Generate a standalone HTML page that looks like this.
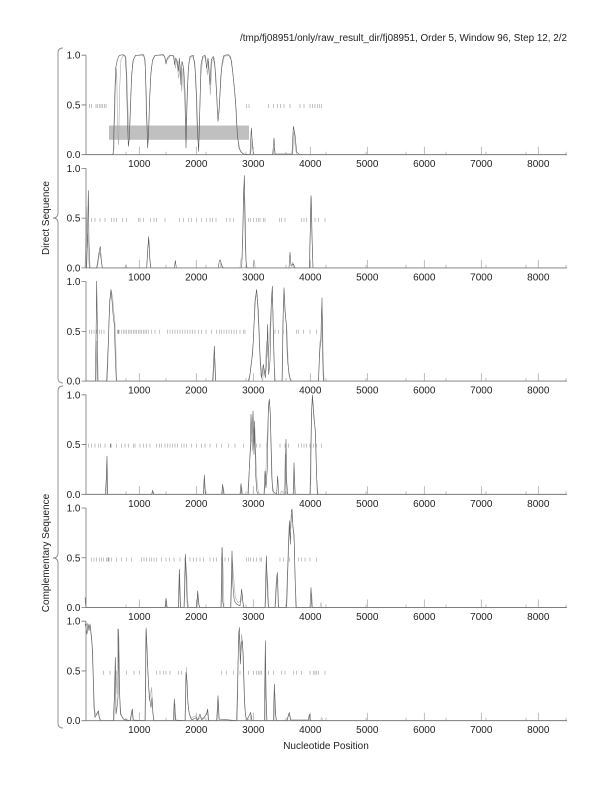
<!DOCTYPE html>
<html>
<head>
<meta charset="utf-8">
<style>
  html,body{margin:0;padding:0;background:#fff;}
  svg{display:block;}
  text{font-family:"Liberation Sans",Arial,sans-serif;font-size:10px;fill:#222;}
  .ax{fill:none;stroke:#777;stroke-width:0.8;}
  .tk{fill:none;stroke:#a0a0a0;stroke-width:0.7;}
  .dk{fill:none;stroke:#505050;stroke-width:0.55;vector-effect:non-scaling-stroke;stroke-linejoin:round;}
  .gr{fill:none;stroke:#ababab;stroke-width:0.6;vector-effect:non-scaling-stroke;stroke-linejoin:round;}
  .ds{fill:none;stroke:#a8a8a8;stroke-width:0.7;vector-effect:non-scaling-stroke;}
  .br{fill:none;stroke:#8a8a8a;stroke-width:0.9;}
</style>
</head>
<body>
<svg width="612" height="792" viewBox="0 0 612 792" xmlns="http://www.w3.org/2000/svg">
<rect width="612" height="792" fill="#fff"/>

<text x="567" y="41" text-anchor="end" textLength="327" lengthAdjust="spacingAndGlyphs">/tmp/fj08951/only/raw_result_dir/fj08951, Order 5, Window 96, Step 12, 2/2</text>

<!-- braces -->
<path class="br" d="M63,48 Q58,48 58,53 L58,213 Q58,218 53,218 Q58,218 58,223 L58,378 Q58,383 63,383"/>
<path class="br" d="M63,386 Q58,386 58,391 L58,553 Q58,558 53,558 Q58,558 58,563 L58,723 Q58,728 63,728"/>
<text transform="translate(49,218) rotate(-90)" text-anchor="middle">Direct Sequence</text>
<text transform="translate(49,553) rotate(-90)" text-anchor="middle">Complementary Sequence</text>

<text x="326" y="749" text-anchor="middle">Nucleotide Position</text>

<!-- ================= PANEL 1 ================= -->
<rect x="109" y="125.5" width="140" height="14.3" fill="#c0c0c0"/>
<g transform="translate(80,48.03) scale(0.333333)">
<path class="ds" d="M28,168v12M35,168v12M48,168v12M53,168v12M58,168v12M63,168v12M68,168v12M73,168v12M78,168v12M500,168v12M507,168v12M565,168v12M580,168v12M592,168v12M602,168v12M612,168v12M630,168v12M660,168v12M672,168v12M690,168v12M697,168v12M705,168v12M712,168v12M718,168v12M725,168v12"/>
<path class="gr" d="M15,320 L98,320 L102,300 L106,120 L110,60 L113,250 L116,290 L119,120 L123,35 L130,22 L138,28 L142,120 L146,260 L150,230 L154,110 L158,40 L166,22 L192,22 L196,60 L199,200 L202,280 L205,270 L208,180 L212,90 L217,40 L226,22 L252,22 L257,40 L262,35 L272,22 L282,25 L286,60 L290,35 L296,90 L301,50 L305,130 L309,60 L314,160 L318,250 L322,120 L327,40 L336,22 L344,40 L348,100 L352,200 L355,280 L358,240 L362,90 L368,30 L377,25 L382,80 L386,40 L391,140 L396,40 L403,30 L408,90 L412,190 L416,200 L420,140 L425,60 L433,25 L447,22 L455,40 L461,100 L466,150 L470,230 L475,280 L480,305 L487,315 L495,320 L512,320 L516,270 L520,320 L580,320 L583,300 L586,320 L638,320 L642,250 L646,300 L650,320 L1460,320"/>
<path class="dk" d="M15,320 L95,320 L100,318 L104,150 L107,60 L112,35 L118,22 L130,20 L136,25 L139,80 L142,200 L145,295 L148,270 L151,180 L155,80 L160,35 L167,22 L190,20 L195,35 L198,120 L201,230 L203,300 L206,250 L209,150 L213,70 L218,35 L225,22 L250,20 L255,28 L258,48 L262,30 L270,22 L280,22 L284,50 L287,30 L292,40 L295,70 L298,30 L303,110 L306,40 L311,60 L315,130 L318,300 L321,170 L325,60 L330,25 L340,22 L345,60 L349,140 L352,250 L356,310 L359,200 L363,50 L368,25 L375,22 L380,60 L384,30 L390,110 L394,35 L400,25 L405,60 L410,140 L414,220 L418,180 L422,90 L427,40 L432,22 L445,20 L452,28 L458,70 L463,120 L468,180 L472,260 L477,300 L483,312 L490,318 L510,320 L514,240 L518,300 L522,320 L578,320 L582,270 L585,318 L636,318 L640,235 L645,260 L650,312 L660,320 L1460,320"/>
</g>
<g transform="translate(0,154.7)">
<path class="tk" d="M139.3,0v-8M196.3,0v-8M253.3,0v-8M310.3,0v-8M367.3,0v-8M424.3,0v-8M481.3,0v-8M538.3,0v-8M126,0v-3M166,0v-3M206,0v-3M246,0v-3M286,0v-3M326,0v-3M366,0v-3M406,0v-3M446,0v-3M486,0v-3M526,0v-3M566,0v-3"/>
<path class="ax" d="M86,-99.5V0H567M81.5,-99.5H86M81.5,-49.75H86M81.5,0H86"/>
<text x="80.5" y="-96" text-anchor="end">1.0</text>
<text x="80.5" y="-46.2" text-anchor="end">0.5</text>
<text x="80.5" y="3.5" text-anchor="end">0.0</text>
<text x="139.3" y="12.5" text-anchor="middle">1000</text><text x="196.3" y="12.5" text-anchor="middle">2000</text><text x="253.3" y="12.5" text-anchor="middle">3000</text><text x="310.3" y="12.5" text-anchor="middle">4000</text><text x="367.3" y="12.5" text-anchor="middle">5000</text><text x="424.3" y="12.5" text-anchor="middle">6000</text><text x="481.3" y="12.5" text-anchor="middle">7000</text><text x="538.3" y="12.5" text-anchor="middle">8000</text>
</g>

<!-- ================= PANEL 2 ================= -->
<g transform="translate(80,160.57) scale(0.333333)">
<path class="ds" d="M35,172v12M45,172v12M60,172v12M75,172v12M95,172v12M102,172v12M110,172v12M128,172v12M140,172v12M175,172v12M180,172v12M190,172v12M212,172v12M222,172v12M230,172v12M255,172v12M298,172v12M310,172v12M325,172v12M335,172v12M350,172v12M365,172v12M380,172v12M390,172v12M398,172v12M408,172v12M440,172v12M450,172v12M460,172v12M505,172v12M512,172v12M520,172v12M530,172v12M535,172v12M540,172v12M550,172v12M555,172v12M598,172v12M605,172v12M615,172v12M665,172v12M672,172v12M680,172v12M695,172v12M705,172v12M715,172v12M735,172v12"/>
<path class="gr" d="M15,322 L17,250 L19,140 L21,260 L23,220 L25,280 L28,322 L52,322 L55,300 L59,275 L63,295 L67,322 L135,322 L138,312 L141,322 L200,322 L204,255 L207,240 L210,300 L213,322 L420,322 L423,305 L427,322 L480,322 L483,295 L486,295 L489,180 L491,80 L493,130 L496,260 L499,322 L520,322 L523,300 L526,322 L635,322 L638,305 L642,322 L689,322 L692,150 L694,110 L697,260 L699,322 L1460,322"/>
<path class="dk" d="M15,322 L20,322 L23,200 L25,90 L27,250 L30,322 L50,322 L55,290 L58,270 L61,258 L64,300 L67,322 L200,322 L203,270 L206,228 L209,290 L212,322 L283,322 L286,300 L289,322 L415,322 L418,300 L421,298 L425,315 L430,322 L485,322 L488,240 L491,100 L493,45 L495,150 L498,300 L501,322 L627,322 L630,275 L633,315 L640,310 L645,322 L688,322 L691,200 L693,105 L696,230 L699,322 L1460,322"/>
</g>
<g transform="translate(0,267.9)">
<path class="tk" d="M139.3,0v-8M196.3,0v-8M253.3,0v-8M310.3,0v-8M367.3,0v-8M424.3,0v-8M481.3,0v-8M538.3,0v-8M126,0v-3M166,0v-3M206,0v-3M246,0v-3M286,0v-3M326,0v-3M366,0v-3M406,0v-3M446,0v-3M486,0v-3M526,0v-3M566,0v-3"/>
<path class="ax" d="M86,-99.5V0H567M81.5,-99.5H86M81.5,-49.75H86M81.5,0H86"/>
<text x="80.5" y="-96" text-anchor="end">1.0</text>
<text x="80.5" y="-46.2" text-anchor="end">0.5</text>
<text x="80.5" y="3.5" text-anchor="end">0.0</text>
<text x="139.3" y="12.5" text-anchor="middle">1000</text><text x="196.3" y="12.5" text-anchor="middle">2000</text><text x="253.3" y="12.5" text-anchor="middle">3000</text><text x="310.3" y="12.5" text-anchor="middle">4000</text><text x="367.3" y="12.5" text-anchor="middle">5000</text><text x="424.3" y="12.5" text-anchor="middle">6000</text><text x="481.3" y="12.5" text-anchor="middle">7000</text><text x="538.3" y="12.5" text-anchor="middle">8000</text>
</g>

<!-- ================= PANEL 3 ================= -->
<g transform="translate(80,274.43) scale(0.333333)">
<path class="ds" d="M28,166v12M35,166v12M42,166v12M50,166v12M58,166v12M65,166v12M72,166v12M125,166v12M130,166v12M135,166v12M140,166v12M145,166v12M150,166v12M155,166v12M160,166v12M165,166v12M170,166v12M175,166v12M180,166v12M185,166v12M190,166v12M195,166v12M200,166v12M205,166v12M215,166v12M225,166v12M238,166v12M262,166v12M270,166v12M278,166v12M285,166v12M292,166v12M300,166v12M308,166v12M315,166v12M322,166v12M330,166v12M337,166v12M345,166v12M355,166v12M365,166v12M378,166v12M395,166v12M410,166v12M418,166v12M425,166v12M432,166v12M440,166v12M447,166v12M455,166v12M462,166v12M470,166v12M480,166v12M490,166v12M495,166v12M585,166v12M595,166v12M610,166v12M620,166v12M650,166v12M655,166v12M670,166v12M690,166v12M710,166v12"/>
<path d="M112,166h6v12h-6z" fill="#999" stroke="none"/>
<path class="gr" d="M15,320 L48,320 L50,200 L52,320 L82,320 L87,150 L90,80 L94,50 L98,70 L101,110 L104,130 L107,200 L110,320 L400,320 L404,240 L407,320 L508,320 L513,270 L518,240 L522,150 L527,70 L531,60 L536,160 L542,300 L548,320 L551,280 L555,300 L560,200 L564,250 L568,200 L572,120 L576,60 L579,110 L583,280 L586,320 L607,320 L610,90 L613,60 L617,130 L621,170 L625,280 L630,310 L635,320 L716,320 L719,210 L722,190 L725,100 L727,120 L729,220 L732,320 L1460,320"/>
<path class="dk" d="M15,320 L46,320 L49,120 L50,20 L52,160 L54,320 L80,320 L85,200 L89,80 L93,45 L97,90 L100,130 L103,150 L106,250 L109,320 L398,320 L401,260 L403,215 L405,270 L407,320 L505,320 L510,300 L515,260 L520,200 L525,80 L530,45 L535,110 L540,240 L545,310 L550,270 L553,290 L556,310 L560,260 L563,150 L566,300 L570,260 L574,80 L577,35 L580,180 L584,320 L606,320 L609,140 L612,40 L615,110 L619,150 L622,250 L627,300 L632,320 L715,320 L720,220 L723,200 L726,70 L728,240 L730,320 L1460,320"/>
</g>
<g transform="translate(0,381.1)">
<path class="tk" d="M139.3,0v-8M196.3,0v-8M253.3,0v-8M310.3,0v-8M367.3,0v-8M424.3,0v-8M481.3,0v-8M538.3,0v-8M126,0v-3M166,0v-3M206,0v-3M246,0v-3M286,0v-3M326,0v-3M366,0v-3M406,0v-3M446,0v-3M486,0v-3M526,0v-3M566,0v-3"/>
<path class="ax" d="M86,-99.5V0H567M81.5,-99.5H86M81.5,-49.75H86M81.5,0H86"/>
<text x="80.5" y="-96" text-anchor="end">1.0</text>
<text x="80.5" y="-46.2" text-anchor="end">0.5</text>
<text x="80.5" y="3.5" text-anchor="end">0.0</text>
<text x="139.3" y="12.5" text-anchor="middle">1000</text><text x="196.3" y="12.5" text-anchor="middle">2000</text><text x="253.3" y="12.5" text-anchor="middle">3000</text><text x="310.3" y="12.5" text-anchor="middle">4000</text><text x="367.3" y="12.5" text-anchor="middle">5000</text><text x="424.3" y="12.5" text-anchor="middle">6000</text><text x="481.3" y="12.5" text-anchor="middle">7000</text><text x="538.3" y="12.5" text-anchor="middle">8000</text>
</g>

<!-- ================= PANEL 4 ================= -->
<g transform="translate(80,387.63) scale(0.333333)">
<path class="ds" d="M25,168v12M35,168v12M45,168v12M55,168v12M62,168v12M75,168v12M110,168v12M125,168v12M135,168v12M145,168v12M160,168v12M165,168v12M180,168v12M190,168v12M200,168v12M210,168v12M230,168v12M238,168v12M245,168v12M255,168v12M262,168v12M270,168v12M278,168v12M285,168v12M292,168v12M305,168v12M312,168v12M320,168v12M335,168v12M350,168v12M365,168v12M375,168v12M390,168v12M410,168v12M425,168v12M445,168v12M465,168v12M490,168v12M530,168v12M540,168v12M560,168v12M600,168v12M615,168v12M625,168v12M655,168v12M665,168v12M672,168v12M680,168v12M690,168v12M700,168v12M710,168v12M725,168v12"/>
<path d="M90,168h4v12h-4z" fill="#888" stroke="none"/>
<path class="gr" d="M15,320 L78,320 L80,240 L82,320 L216,320 L219,312 L222,320 L371,320 L374,280 L377,320 L427,320 L430,300 L433,320 L482,320 L485,300 L488,320 L503,320 L507,260 L510,210 L513,170 L516,150 L518,190 L521,120 L524,140 L528,220 L532,300 L538,320 L553,320 L557,270 L561,160 L564,100 L567,40 L570,60 L573,150 L577,290 L582,320 L600,320 L605,310 L612,318 L616,200 L619,300 L622,320 L639,320 L643,260 L646,320 L692,320 L695,60 L698,30 L701,90 L704,110 L707,150 L710,270 L714,320 L1460,320"/>
<path class="dk" d="M15,320 L76,320 L79,270 L81,205 L83,320 L215,320 L218,308 L221,320 L370,320 L373,262 L376,320 L425,320 L428,290 L431,320 L480,320 L483,288 L486,320 L505,320 L508,240 L511,180 L513,80 L516,160 L519,70 L522,200 L524,100 L527,260 L530,310 L535,320 L552,320 L555,250 L558,300 L562,240 L565,60 L568,35 L571,80 L575,260 L578,310 L590,320 L593,265 L596,320 L615,320 L618,155 L620,280 L623,320 L640,320 L642,225 L645,320 L690,320 L694,100 L697,22 L700,60 L703,100 L706,130 L709,240 L712,320 L1460,320"/>
</g>
<g transform="translate(0,494.3)">
<path class="tk" d="M139.3,0v-8M196.3,0v-8M253.3,0v-8M310.3,0v-8M367.3,0v-8M424.3,0v-8M481.3,0v-8M538.3,0v-8M126,0v-3M166,0v-3M206,0v-3M246,0v-3M286,0v-3M326,0v-3M366,0v-3M406,0v-3M446,0v-3M486,0v-3M526,0v-3M566,0v-3"/>
<path class="ax" d="M86,-99.5V0H567M81.5,-99.5H86M81.5,-49.75H86M81.5,0H86"/>
<text x="80.5" y="-96" text-anchor="end">1.0</text>
<text x="80.5" y="-46.2" text-anchor="end">0.5</text>
<text x="80.5" y="3.5" text-anchor="end">0.0</text>
<text x="139.3" y="12.5" text-anchor="middle">1000</text><text x="196.3" y="12.5" text-anchor="middle">2000</text><text x="253.3" y="12.5" text-anchor="middle">3000</text><text x="310.3" y="12.5" text-anchor="middle">4000</text><text x="367.3" y="12.5" text-anchor="middle">5000</text><text x="424.3" y="12.5" text-anchor="middle">6000</text><text x="481.3" y="12.5" text-anchor="middle">7000</text><text x="538.3" y="12.5" text-anchor="middle">8000</text>
</g>

<!-- ================= PANEL 5 ================= -->
<g transform="translate(80,500.83) scale(0.333333)">
<path class="ds" d="M35,170v12M42,170v12M50,170v12M58,170v12M65,170v12M70,170v12M80,170v12M95,170v12M110,170v12M125,170v12M140,170v12M155,170v12M185,170v12M192,170v12M200,170v12M208,170v12M215,170v12M222,170v12M230,170v12M245,170v12M258,170v12M268,170v12M282,170v12M300,170v12M315,170v12M330,170v12M340,170v12M350,170v12M360,170v12M370,170v12M390,170v12M400,170v12M410,170v12M425,170v12M435,170v12M445,170v12M500,170v12M505,170v12M512,170v12M520,170v12M530,170v12M540,170v12M545,170v12M600,170v12M610,170v12M628,170v12M655,170v12M665,170v12M675,170v12M690,170v12M710,170v12"/>
<path d="M83,170h5v12h-5z" fill="#999" stroke="none"/>
<path class="gr" d="M15,300 L18,320 L256,320 L259,300 L262,320 L296,320 L299,220 L302,320 L313,320 L317,180 L320,210 L323,300 L326,320 L351,320 L354,280 L358,320 L424,320 L427,140 L429,200 L432,320 L453,320 L457,180 L461,230 L466,290 L474,305 L484,300 L487,280 L490,320 L556,320 L560,200 L563,240 L566,320 L586,320 L590,250 L593,230 L596,320 L618,320 L622,220 L626,110 L630,80 L633,60 L636,40 L640,90 L643,130 L646,260 L650,320 L692,320 L695,280 L698,320 L720,320 L723,305 L726,320 L1460,320"/>
<path class="dk" d="M15,290 L18,320 L255,320 L258,292 L261,320 L295,320 L298,205 L301,320 L312,320 L316,160 L319,240 L322,320 L350,320 L353,270 L356,310 L360,320 L423,320 L426,140 L428,300 L431,320 L452,320 L456,150 L459,260 L463,300 L470,310 L480,315 L485,265 L488,300 L492,320 L555,320 L559,165 L562,260 L565,320 L585,320 L589,240 L592,215 L595,320 L620,320 L624,190 L628,60 L631,130 L634,30 L636,25 L639,80 L642,100 L645,220 L648,320 L690,320 L693,260 L696,320 L1460,320"/>
</g>
<g transform="translate(0,607.5)">
<path class="tk" d="M139.3,0v-8M196.3,0v-8M253.3,0v-8M310.3,0v-8M367.3,0v-8M424.3,0v-8M481.3,0v-8M538.3,0v-8M126,0v-3M166,0v-3M206,0v-3M246,0v-3M286,0v-3M326,0v-3M366,0v-3M406,0v-3M446,0v-3M486,0v-3M526,0v-3M566,0v-3"/>
<path class="ax" d="M86,-99.5V0H567M81.5,-99.5H86M81.5,-49.75H86M81.5,0H86"/>
<text x="80.5" y="-96" text-anchor="end">1.0</text>
<text x="80.5" y="-46.2" text-anchor="end">0.5</text>
<text x="80.5" y="3.5" text-anchor="end">0.0</text>
<text x="139.3" y="12.5" text-anchor="middle">1000</text><text x="196.3" y="12.5" text-anchor="middle">2000</text><text x="253.3" y="12.5" text-anchor="middle">3000</text><text x="310.3" y="12.5" text-anchor="middle">4000</text><text x="367.3" y="12.5" text-anchor="middle">5000</text><text x="424.3" y="12.5" text-anchor="middle">6000</text><text x="481.3" y="12.5" text-anchor="middle">7000</text><text x="538.3" y="12.5" text-anchor="middle">8000</text>
</g>

<!-- ================= PANEL 6 ================= -->
<g transform="translate(80,614.03) scale(0.333333)">
<path class="ds" d="M70,170v12M90,170v12M110,170v12M140,170v12M162,170v12M178,170v12M230,170v12M240,170v12M250,170v12M258,170v12M270,170v12M295,170v12M305,170v12M425,170v12M440,170v12M460,170v12M480,170v12M505,170v12M520,170v12M530,170v12M535,170v12M540,170v12M545,170v12M565,170v12M580,170v12M605,170v12M615,170v12M640,170v12M650,170v12M665,170v12M690,170v12M700,170v12M705,170v12M710,170v12M715,170v12M735,170v12"/>
<path class="gr" d="M15,25 L19,35 L23,28 L27,40 L31,35 L35,70 L38,110 L41,220 L44,290 L48,305 L54,295 L60,320 L102,320 L105,200 L108,180 L111,240 L113,45 L116,100 L119,250 L123,300 L132,318 L152,320 L156,290 L159,320 L196,320 L199,40 L202,140 L205,200 L208,260 L212,240 L215,220 L218,290 L221,320 L282,320 L285,270 L288,320 L316,320 L319,160 L322,240 L326,290 L332,312 L348,305 L352,318 L362,310 L372,315 L382,290 L385,320 L412,320 L415,260 L418,320 L472,320 L475,100 L478,60 L482,110 L485,60 L488,100 L491,200 L494,280 L498,310 L510,320 L513,300 L516,320 L555,320 L557,150 L560,320 L582,320 L585,240 L588,320 L622,320 L626,300 L630,310 L634,320 L687,320 L690,305 L693,320 L722,320 L725,310 L728,320 L1460,320"/>
<path class="dk" d="M15,30 L18,40 L21,60 L24,30 L27,50 L30,30 L33,60 L36,90 L39,170 L42,280 L45,310 L50,300 L55,290 L58,310 L62,320 L100,320 L103,250 L106,130 L108,300 L111,280 L114,250 L116,45 L118,200 L121,300 L130,315 L150,320 L154,300 L157,285 L160,318 L195,320 L198,45 L201,100 L204,180 L207,230 L210,260 L213,280 L216,250 L219,300 L222,320 L280,320 L283,255 L286,318 L315,320 L318,175 L321,200 L324,270 L328,300 L335,318 L350,310 L353,320 L360,300 L365,318 L380,300 L383,285 L386,320 L410,320 L414,245 L417,315 L470,320 L473,200 L476,60 L478,40 L481,150 L484,90 L487,80 L490,130 L493,240 L496,300 L500,320 L512,295 L515,320 L553,320 L556,80 L558,250 L561,320 L580,320 L583,210 L586,300 L590,320 L620,320 L625,305 L628,295 L632,318 L685,318 L688,300 L691,320 L695,320 L1460,320"/>
</g>
<g transform="translate(0,720.7)">
<path class="tk" d="M139.3,0v-8M196.3,0v-8M253.3,0v-8M310.3,0v-8M367.3,0v-8M424.3,0v-8M481.3,0v-8M538.3,0v-8M126,0v-3M166,0v-3M206,0v-3M246,0v-3M286,0v-3M326,0v-3M366,0v-3M406,0v-3M446,0v-3M486,0v-3M526,0v-3M566,0v-3"/>
<path class="ax" d="M86,-99.5V0H567M81.5,-99.5H86M81.5,-49.75H86M81.5,0H86"/>
<text x="80.5" y="-96" text-anchor="end">1.0</text>
<text x="80.5" y="-46.2" text-anchor="end">0.5</text>
<text x="80.5" y="3.5" text-anchor="end">0.0</text>
<text x="139.3" y="12.5" text-anchor="middle">1000</text><text x="196.3" y="12.5" text-anchor="middle">2000</text><text x="253.3" y="12.5" text-anchor="middle">3000</text><text x="310.3" y="12.5" text-anchor="middle">4000</text><text x="367.3" y="12.5" text-anchor="middle">5000</text><text x="424.3" y="12.5" text-anchor="middle">6000</text><text x="481.3" y="12.5" text-anchor="middle">7000</text><text x="538.3" y="12.5" text-anchor="middle">8000</text>
</g>

</svg>
</body>
</html>
